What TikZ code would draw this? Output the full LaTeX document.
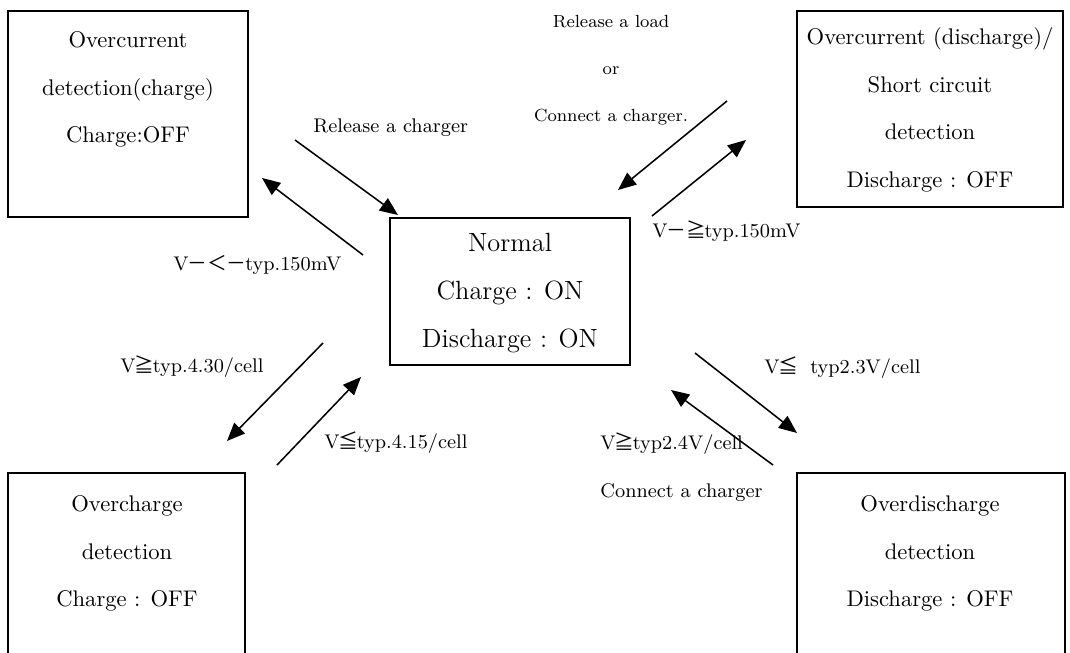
\documentclass[tikz,border=0pt]{standalone}
\usepackage{fontspec}
\newfontfamily\cjk{Noto Sans CJK JP}
\newcommand{\sym}[1]{{\cjk\kern-0.6pt #1\kern-0.6pt}}
\usetikzlibrary{arrows.meta}

\begin{document}
\begin{tikzpicture}[x=0.016cm, y=-0.016cm,
        box/.style = {draw, line width=0.7pt, inner sep=0pt},
        txt/.style = {align=center, inner sep=0pt, anchor=north, font=\fontsize{10.3}{21.7}\selectfont},
        lbl/.style = {inner sep=0pt, anchor=west, font=\small},
        note/.style = {inner sep=0pt, align=center, font=\fontsize{8}{21.4}\selectfont},
        arr/.style = {line width=0.7pt, -{Triangle[length=0.29cm, width=0.24cm]}}]
        \useasboundingbox (0,0) rectangle (1070,652);
        \clip (0,0) rectangle (1070,652);

        % states
        \node[box, minimum width=3.84cm, minimum height=3.296cm] (occ) at (128,114) {};
        \node[box, minimum width=4.256cm, minimum height=3.136cm] (ocd) at (930,109) {};
        \node[box, minimum width=3.84cm, minimum height=2.352cm] (norm) at (510,291.5) {};
        \node[box, minimum width=3.792cm, minimum height=3.152cm] (ovc) at (126.5,571.5) {};
        \node[box, minimum width=4.288cm, minimum height=3.152cm] (ovd) at (931,571.5) {};

        \node[txt] (occt) at (128,31) {Overcurrent\\detection(charge)\\Charge:OFF};
        \node[txt] (ocdt) at (930,27) {Overcurrent (discharge)/\\Short circuit\\detection\\Discharge : OFF};
        \node[txt, font=\fontsize{12}{21.8}\selectfont] (normt) at (510,233) {Normal\\Charge : ON\\Discharge : ON};
        \node[txt] (ovct) at (127,495) {Overcharge\\detection\\Charge : OFF};
        \node[txt] (ovdt) at (930,495) {Overdischarge\\detection\\Discharge : OFF};

        % arrow ends
        \coordinate (a1) at (295,140);
        \coordinate (b1) at (398,215);
        \coordinate (a2) at (363,255);
        \coordinate (b2) at (262,178);
        \coordinate (a3) at (727,101);
        \coordinate (b3) at (618,190);
        \coordinate (a4) at (652,216);
        \coordinate (b4) at (746,140);
        \coordinate (a5) at (323,343);
        \coordinate (b5) at (227,441);
        \coordinate (a6) at (277,465);
        \coordinate (b6) at (361,377);
        \coordinate (a7) at (695,353);
        \coordinate (b7) at (797,433);
        \coordinate (a8) at (773,465);
        \coordinate (b8) at (671,390);

        \draw[arr] (a1) -- (b1);
        \draw[arr] (a2) -- (b2);
        \draw[arr] (a3) -- (b3);
        \draw[arr] (a4) -- (b4);
        \draw[arr] (a5) -- (b5);
        \draw[arr] (a6) -- (b6);
        \draw[arr] (a7) -- (b7);
        \draw[arr] (a8) -- (b8);

        % conditions
        \node[lbl] (c1) at (313,128) {Release a charger};
        \node[lbl] (c2) at (173,265) {V\sym{－＜－}typ.150mV};
        \node[note] (c3) at (611,70) {Release a load\\or\\Connect a charger.};
        \node[lbl] (c4) at (652,231) {V\sym{－≧}typ.150mV};
        \node[lbl] (c5) at (120,367) {V\sym{≧}typ.4.30/cell};
        \node[lbl] (c6) at (324,443) {V\sym{≦}typ.4.15/cell};
        \node[lbl] (c7) at (764,368) {V\sym{≦}\ \ typ2.3V/cell};
        \node[lbl, align=left, font=\fontsize{9}{21.7}\selectfont] (c8) at (600,467) {V\sym{≧}typ2.4V/cell\\Connect a charger};
    \end{tikzpicture}
\end{document}
